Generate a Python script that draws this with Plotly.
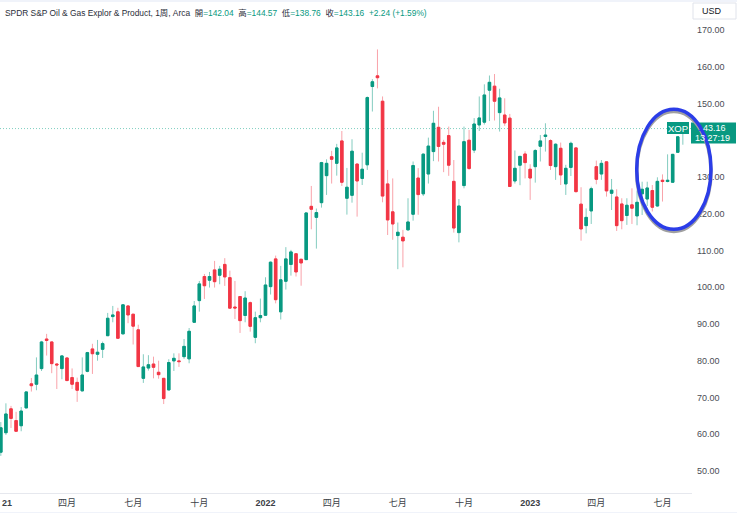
import pandas as pd
import plotly.graph_objects as go

# weekly bars
opens = [
    55.1, 60.4, 66.9, 63.7, 62.3, 67.15, 73.7, 73.6, 77.85, 85.9,
    85.1, 79.1, 77.85, 80.75, 75.4, 74.1, 71.8, 77.1, 83.2, 81.75,
    83.1, 86.8, 92.0, 93.3, 87.3, 94.9, 92.65, 88.4, 75.2, 78.0,
    79.1, 76.85, 75.2, 72.05, 79.95, 79.95, 81.1, 80.5, 90.45, 96.35,
    102.9, 101.9, 104.7, 103.25, 106.2, 102.6, 94.6, 97.45, 92.3, 95.8,
    86.35, 91.7, 92.35, 100.15, 107.7, 93.3, 101.6, 106.2, 109.1, 107.6,
    107.5, 122.0, 119.0, 123.0, 130.35, 135.5, 133.7, 139.8, 124.2, 125.0,
    133.5, 129.6, 133.3, 154.6, 157.5, 150.6, 128.1, 120.5, 114.05, 113.6,
    115.6, 119.85, 129.7, 125.4, 130.8, 136.9, 143.5, 139.4, 141.25, 128.8,
    114.85, 127.65, 140.0, 137.3, 144.15, 144.9, 153.6, 154.7, 147.5, 146.85,
    146.0, 128.9, 133.2, 136.25, 132.1, 132.8, 138.35, 141.0, 139.9, 132.8,
    137.8, 128.1, 132.6, 137.9, 122.6, 116.75, 120.75, 132.8, 130.8, 134.1,
    125.55, 124.55, 122.65, 119.5, 122.4, 119.4, 125.4, 124.0, 126.3, 122.1,
    129.1, 128.75, 128.55, 136.7, 142.04,
]
highs = [
    63.3, 68.4, 67.7, 66.1, 67.4, 71.7, 75.3, 80.9, 85.4, 87.3,
    85.3, 79.3, 81.5, 80.85, 77.9, 75.4, 80.9, 82.4, 84.6, 85.65,
    85.2, 93.0, 94.9, 94.4, 95.35, 95.1, 92.7, 89.8, 81.75, 81.5,
    81.1, 80.0, 75.3, 80.4, 82.0, 82.0, 85.9, 88.9, 96.25, 101.7,
    103.6, 104.15, 107.15, 105.8, 107.9, 104.5, 101.7, 97.6, 98.9, 96.1,
    93.35, 96.9, 102.7, 107.0, 108.6, 105.8, 110.9, 110.15, 109.3, 107.7,
    120.4, 127.55, 121.4, 134.1, 134.8, 137.1, 139.0, 142.5, 132.45, 140.25,
    133.7, 136.6, 151.9, 156.6, 164.7, 151.9, 131.9, 129.6, 117.6, 115.6,
    124.2, 134.2, 132.4, 136.4, 140.7, 148.0, 149.1, 140.1, 143.7, 134.6,
    124.0, 143.7, 142.8, 146.0, 151.9, 155.2, 157.6, 158.0, 154.0, 151.4,
    147.15, 137.2, 135.7, 137.0, 133.45, 137.55, 141.4, 144.6, 140.25, 139.15,
    139.35, 133.3, 139.6, 138.1, 127.2, 121.45, 127.35, 134.45, 134.6, 134.2,
    129.45, 126.65, 124.2, 124.2, 126.9, 126.3, 128.7, 128.7, 127.8, 129.9,
    130.7, 136.15, 136.25, 141.15, 144.57,
]
lows = [
    54.1, 59.8, 61.7, 60.6, 60.8, 67.1, 71.6, 71.96, 77.2, 81.4,
    76.6, 72.3, 74.95, 74.4, 72.3, 68.8, 71.6, 76.85, 76.4, 80.0,
    80.75, 86.7, 90.45, 86.0, 87.2, 90.2, 84.4, 78.3, 73.95, 77.3,
    75.2, 75.1, 68.2, 71.9, 77.2, 78.3, 80.5, 79.3, 90.4, 93.35,
    96.8, 99.9, 99.9, 100.8, 100.35, 94.1, 91.35, 87.55, 90.45, 87.9,
    84.75, 90.45, 92.3, 98.0, 95.6, 91.2, 99.35, 103.15, 102.9, 100.4,
    107.4, 115.75, 110.5, 121.65, 125.1, 128.2, 130.35, 127.55, 119.75, 123.0,
    119.2, 127.8, 131.9, 147.8, 154.1, 123.1, 114.2, 112.9, 104.9, 105.4,
    115.4, 118.1, 119.7, 124.8, 128.2, 134.3, 134.2, 131.3, 130.3, 114.85,
    112.2, 126.9, 131.9, 136.5, 142.5, 144.25, 145.2, 145.35, 142.35, 143.9,
    127.3, 128.2, 127.75, 129.6, 123.75, 128.45, 134.2, 136.9, 131.9, 129.2,
    127.8, 125.1, 130.25, 125.75, 112.65, 114.65, 117.2, 128.0, 129.2, 124.65,
    121.0, 115.3, 115.75, 116.95, 117.2, 116.85, 119.65, 122.1, 120.6, 121.9,
    123.3, 128.55, 128.45, 136.6, 138.76,
]
closes = [
    61.75, 65.5, 64.3, 60.8, 66.3, 71.5, 73.2, 76.1, 85.1, 85.5,
    79.2, 78.85, 81.3, 74.6, 73.6, 71.96, 76.1, 82.2, 81.9, 82.3,
    84.65, 91.55, 92.45, 86.1, 95.2, 92.45, 89.4, 78.4, 78.3, 78.9,
    78.2, 76.2, 69.7, 79.5, 80.65, 79.75, 83.9, 88.0, 94.9, 100.9,
    100.4, 102.9, 101.5, 104.9, 102.8, 94.3, 94.35, 90.9, 97.05, 89.35,
    91.7, 92.3, 100.6, 106.8, 96.6, 102.0, 107.7, 109.6, 104.15, 106.6,
    120.2, 121.2, 120.3, 133.9, 133.7, 134.8, 137.9, 128.55, 127.2, 137.0,
    128.9, 132.1, 151.6, 155.9, 157.0, 124.8, 118.3, 117.2, 114.95, 112.6,
    117.75, 133.1, 125.2, 136.2, 138.4, 144.6, 138.3, 138.9, 133.2, 116.1,
    122.1, 139.6, 132.3, 144.4, 146.05, 152.3, 155.75, 150.6, 151.5, 144.7,
    127.4, 132.35, 135.6, 133.9, 129.7, 137.2, 139.8, 141.4, 133.1, 138.9,
    130.55, 132.35, 139.15, 126.0, 115.85, 119.0, 126.8, 129.35, 133.7, 126.2,
    126.4, 116.75, 118.1, 122.3, 121.5, 123.1, 126.65, 127.0, 121.75, 128.8,
    128.75, 129.1, 136.15, 140.92, 143.16,
]

weeks = pd.date_range("2021-01-04", periods=len(closes), freq="7D")

tick_dates = ["2021-04-05", "2021-07-05", "2021-10-04", "2022-01-03", "2022-04-04",
              "2022-07-04", "2022-10-03", "2023-01-02", "2023-04-03", "2023-07-03"]
tick_labels = ["四月", "七月", "十月", "<b>2022</b>", "四月",
               "七月", "十月", "<b>2023</b>", "四月", "七月"]
# 140.00 sits behind the price tag in the original, so it is left out
price_ticks = [50, 60, 70, 80, 90, 100, 110, 120, 130, 150, 160, 170]

UP = "#089981"
DOWN = "#F23645"
UP_WICK = "#84ccc0"
DOWN_WICK = "#f9a3aa"
RING = "#2b3de8"
W, H = 737, 513


def px_x(x):
    return x / W


def px_y(y):
    return 1 - y / H


fig = go.Figure()

# thin pale wicks first, then the solid bodies on top
fig.add_trace(go.Candlestick(
    x=weeks, open=opens, high=highs, low=lows, close=closes,
    increasing=dict(line=dict(color=UP_WICK, width=1), fillcolor=UP),
    decreasing=dict(line=dict(color=DOWN_WICK, width=1), fillcolor=DOWN),
    whiskerwidth=0, showlegend=False, hoverinfo="skip",
))
fig.add_trace(go.Candlestick(
    x=weeks, open=opens, close=closes,
    high=[max(a, b) for a, b in zip(opens, closes)],
    low=[min(a, b) for a, b in zip(opens, closes)],
    increasing=dict(line=dict(color=UP, width=1), fillcolor=UP),
    decreasing=dict(line=dict(color=DOWN, width=1), fillcolor=DOWN),
    whiskerwidth=0, showlegend=False,
))

shapes = [
    # last price dotted line
    dict(type="line", xref="x domain", yref="y", x0=0, x1=1, y0=closes[-1], y1=closes[-1],
         line=dict(color="#7fcfc0", width=1, dash="1px,2px"), layer="below"),
    # top and bottom page bands
    dict(type="rect", xref="paper", yref="paper", x0=0, x1=1, y0=px_y(2), y1=1,
         line_width=0, fillcolor="#f0f3fa"),
    dict(type="rect", xref="paper", yref="paper", x0=0, x1=1, y0=0, y1=px_y(512),
         line_width=0, fillcolor="#f0f3fa"),
    # USD button
    dict(type="rect", xref="paper", yref="paper", x0=px_x(693), x1=px_x(736), y0=px_y(19), y1=px_y(3),
         line=dict(color="#e0e3eb", width=1), fillcolor="white"),
    # XOP and price tags
    dict(type="rect", xref="paper", yref="paper", x0=px_x(667), x1=px_x(689), y0=px_y(134), y1=px_y(122),
         line_width=0, fillcolor=UP),
    dict(type="rect", xref="paper", yref="paper", x0=px_x(691), x1=px_x(736), y0=px_y(143.5), y1=px_y(122.5),
         line_width=0, fillcolor=UP),
    # hand drawn ring with its shadow
    dict(type="circle", xref="paper", yref="paper", x0=px_x(636.7), x1=px_x(711), y0=px_y(231.5), y1=px_y(111.5),
         line=dict(color="#a0a0a0", width=3.5)),
    dict(type="circle", xref="paper", yref="paper", x0=px_x(636.7), x1=px_x(711), y0=px_y(229.3), y1=px_y(109.3),
         line=dict(color=RING, width=3.5)),
]

header = (
    '<span style="color:#2a2e39">SPDR S&amp;P Oil &amp; Gas Explor &amp; Product, 1周, Arca  開</span>'
    f'<span style="color:{UP}">={opens[-1]:.2f}</span>'
    '<span style="color:#2a2e39">  高</span>'
    f'<span style="color:{UP}">={highs[-1]:.2f}</span>'
    '<span style="color:#2a2e39">  低</span>'
    f'<span style="color:{UP}">={lows[-1]:.2f}</span>'
    '<span style="color:#2a2e39">  收</span>'
    f'<span style="color:{UP}">={closes[-1]:.2f}  +2.24 (+1.59%)</span>'
)

annotations = [
    dict(text=header, xref="paper", yref="paper", x=px_x(3), y=px_y(12.5), xanchor="left", yanchor="middle",
         showarrow=False, font=dict(size=8.4, color="#2a2e39")),
    dict(text="USD", xref="paper", yref="paper", x=px_x(700), y=px_y(11.5), xanchor="left", yanchor="middle",
         showarrow=False, font=dict(size=9, color="#131722")),
    dict(text="XOP", xref="paper", yref="paper", x=px_x(678), y=px_y(128.2), xanchor="center", yanchor="middle",
         showarrow=False, font=dict(size=9.5, color="white")),
    dict(text=f'<span style="color:{RING}">1</span>43.16', xref="paper", yref="paper", x=px_x(712), y=px_y(127.8),
         xanchor="center", yanchor="middle", showarrow=False, font=dict(size=9, color="white")),
    dict(text=f'13<span style="color:{RING}">:</span>27:19', xref="paper", yref="paper", x=px_x(712), y=px_y(138.4),
         xanchor="center", yanchor="middle", showarrow=False, font=dict(size=9, color="white")),
    # the 2021 label is cut by the window edge in the original
    dict(text="<b>21</b>", xref="paper", yref="paper", x=0, y=px_y(503), xanchor="left", yanchor="middle",
         showarrow=False, font=dict(size=9, color="#3c3f47")),
]

fig.update_layout(
    width=W, height=H,
    margin=dict(l=0, r=0, t=0, b=0),
    paper_bgcolor="white", plot_bgcolor="white",
    font=dict(family="'Liberation Sans', 'Noto Sans CJK SC', sans-serif", size=9, color="#3c3f47"),
    shapes=shapes, annotations=annotations,
    showlegend=False,
    xaxis=dict(
        domain=[0, 692 / W], type="date",
        range=["2021-01-02 21:00", "2023-08-12 14:00"],
        rangeslider=dict(visible=False),
        tickmode="array", tickvals=tick_dates, ticktext=tick_labels,
        showgrid=False, zeroline=False, showline=True, linecolor="#e6e8ee", linewidth=1,
        ticks="", ticklabelstandoff=1, tickfont=dict(size=9, color="#3c3f47"),
    ),
    yaxis=dict(
        domain=[px_y(493), px_y(2)], side="right",
        range=[44.0, 177.6],
        tickmode="array", tickvals=price_ticks, ticktext=[f"{p:.2f}" for p in price_ticks],
        showgrid=False, zeroline=False, showline=False,
        ticks="", ticklabelstandoff=4, tickfont=dict(size=9, color="#4a4d55"),
    ),
)

fig.write_html("out.html", config=dict(displayModeBar=False), post_script="document.body.style.margin='0';")
